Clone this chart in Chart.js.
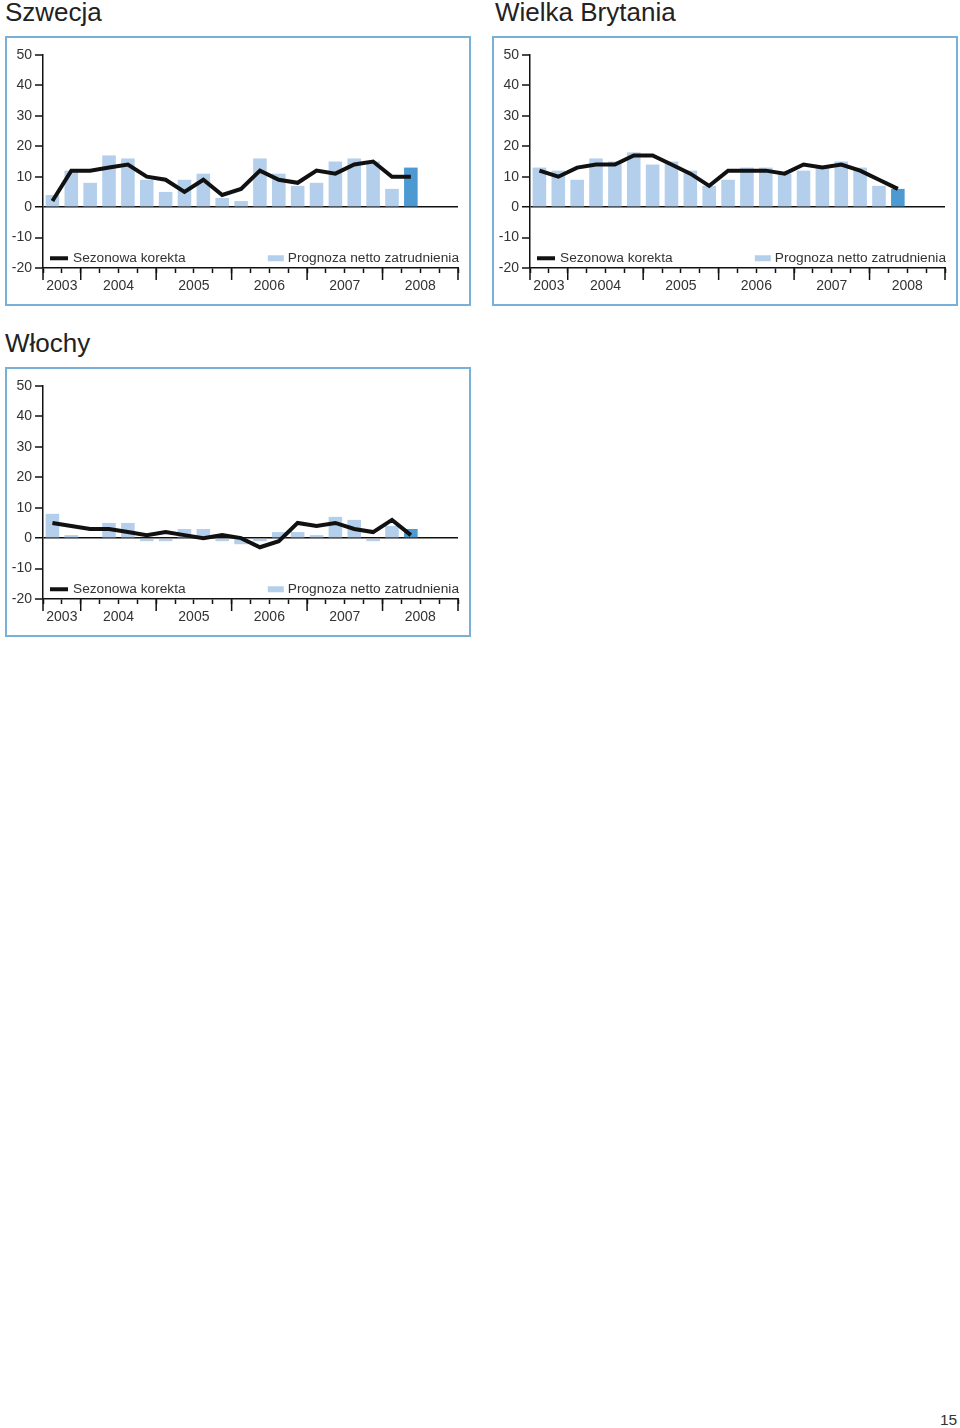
<!DOCTYPE html>
<html>
<head>
<meta charset="utf-8">
<script src="https://cdn.jsdelivr.net/npm/chart.js@4.4.0/dist/chart.umd.min.js"></script>
<style>
  body { margin: 0; background: #fff; width: 960px; height: 1428px; position: relative; font-family: "Liberation Sans", Arial, sans-serif; }
  .title { position: absolute; font-size: 26px; line-height: 26px; color: #222; white-space: nowrap; }
  .box { position: absolute; width: 466px; height: 270px; border: 2px solid #78b0d8; box-sizing: border-box; }
  .box canvas { position: absolute; left: 0; top: 0; }
  .page { position: absolute; left: 940px; top: 1412px; font-size: 15.5px; line-height: 15.5px; color: #333; }
</style>
</head>
<body>

<div class="title" style="left:5px;top:-1px">Szwecja</div>
<div class="box" style="left:5px;top:36px"><canvas id="szwecja" width="462" height="266"></canvas></div>

<div class="title" style="left:495px;top:-1px">Wielka Brytania</div>
<div class="box" style="left:492px;top:36px"><canvas id="uk" width="462" height="266"></canvas></div>

<div class="title" style="left:5px;top:330px">Włochy</div>
<div class="box" style="left:5px;top:367px"><canvas id="wlochy" width="462" height="266"></canvas></div>

<div class="page">15</div>

<script>
// quarters on the x axis (2003 Q3 .. 2008 Q4), data runs up to 2008 Q2
var quarters = ['2003 Q3','2003 Q4',
  '2004 Q1','2004 Q2','2004 Q3','2004 Q4',
  '2005 Q1','2005 Q2','2005 Q3','2005 Q4',
  '2006 Q1','2006 Q2','2006 Q3','2006 Q4',
  '2007 Q1','2007 Q2','2007 Q3','2007 Q4',
  '2008 Q1','2008 Q2','2008 Q3','2008 Q4'];
var yTicks = [50, 40, 30, 20, 10, 0, -10, -20];

var szwecjaBars = [4, 12, 8, 17, 16, 9, 5, 9, 11, 3, 2, 16, 11, 7, 8, 15, 16, 15, 6, 13];
var szwecjaLine = [2, 12, 12, 13, 14, 10, 9, 5, 9, 4, 6, 12, 9, 8, 12, 11, 14, 15, 10, 10];

var ukBars = [13, 12, 9, 16, 15, 18, 14, 15, 12, 7, 9, 13, 13, 11, 12, 13, 15, 13, 7, 6];
var ukLine = [12, 10, 13, 14, 14, 17, 17, 14, 11, 7, 12, 12, 12, 11, 14, 13, 14, 12, 9, 6];

var wlochyBars = [8, 1, 0, 5, 5, -1, -1, 3, 3, -1, -2, -1, 2, 2, 1, 7, 6, -1, 4, 3];
var wlochyLine = [5, 4, 3, 3, 2, 1, 2, 1, 0, 1, 0, -3, -1, 5, 4, 5, 3, 2, 6, 1];

var lineLabel = 'Sezonowa korekta';
var barLabel = 'Prognoza netto zatrudnienia';

var lightBlue = '#b4cfeb';
var darkBlue = '#4d9ad2';
var ink = '#111';
var textColor = '#333';
var fontFamily = '"Liberation Sans", Arial, sans-serif';

// year of each quarter, and where the year label / long tick goes
var qYear = quarters.map(function (q) { return q.slice(0, 4); });
var yearLabelAt = {};
var yearBounds = [-0.5];
qYear.forEach(function (y, i) {
  if (i > 0 && qYear[i - 1] !== y) yearBounds.push(i - 0.5);
});
yearBounds.push(quarters.length - 0.5);
for (var b = 0; b < yearBounds.length - 1; b++) {
  var mid = (yearBounds[b] + yearBounds[b + 1]) / 2;   // always x.5
  yearLabelAt[Math.floor(mid)] = qYear[Math.ceil(yearBounds[b])];
}

// long ticks at year boundaries
var yearTicks = {
  id: 'yearTicks',
  afterDraw: function (chart) {
    var x = chart.scales.x, ctx = chart.ctx, bottom = chart.chartArea.bottom;
    ctx.save();
    ctx.strokeStyle = ink;
    ctx.lineWidth = 1.5;
    yearBounds.forEach(function (v) {
      var px = x.getPixelForValue(v);
      ctx.beginPath();
      ctx.moveTo(px, bottom);
      ctx.lineTo(px, bottom + 12);
      ctx.stroke();
    });
    ctx.restore();
  }
};

// legend sits inside the plot, near -17
var insideLegend = {
  id: 'insideLegend',
  afterDraw: function (chart) {
    var ctx = chart.ctx, area = chart.chartArea;
    var y = chart.scales.y.getPixelForValue(-16.8);
    var lineDs = chart.data.datasets[0], barDs = chart.data.datasets[1];
    ctx.save();
    ctx.font = '13.7px ' + fontFamily;
    ctx.fillStyle = textColor;
    ctx.textBaseline = 'middle';
    ctx.strokeStyle = lineDs.borderColor;
    ctx.lineWidth = 4;
    ctx.beginPath();
    ctx.moveTo(area.left + 7, y);
    ctx.lineTo(area.left + 25, y);
    ctx.stroke();
    ctx.textAlign = 'left';
    ctx.fillText(lineDs.label, area.left + 30, y);
    ctx.textAlign = 'right';
    var right = area.right + 1;
    var w = ctx.measureText(barDs.label).width;
    ctx.fillText(barDs.label, right, y);
    ctx.fillStyle = lightBlue;
    ctx.fillRect(right - w - 20, y - 3, 16, 6);
    ctx.restore();
  }
};

function makeChart(id, bars, line) {
  var colors = bars.map(function (v, i) { return i === bars.length - 1 ? darkBlue : lightBlue; });
  return new Chart(document.getElementById(id), {
    data: {
      labels: quarters,
      datasets: [
        {
          type: 'line',
          label: lineLabel,
          data: line,
          borderColor: ink,
          borderWidth: 4,
          pointRadius: 0,
          tension: 0,
          order: 0
        },
        {
          type: 'bar',
          label: barLabel,
          data: bars,
          backgroundColor: colors,
          categoryPercentage: 1,
          barPercentage: 0.72,
          order: 1
        }
      ]
    },
    options: {
      responsive: false,
      animation: false,
      events: [],
      layout: { padding: { left: 0, right: 11, top: 17, bottom: 0 } },
      plugins: { legend: { display: false }, tooltip: { enabled: false } },
      scales: {
        x: {
          type: 'category',
          offset: true,
          afterFit: function (s) { s.height = 36; },
          border: { display: true, color: ink, width: 1.5 },
          grid: { offset: true, drawOnChartArea: false, drawTicks: true, tickLength: 5, tickColor: ink, tickWidth: 1.5 },
          ticks: {
            autoSkip: false,
            maxRotation: 0,
            padding: 5,
            labelOffset: 9.43,
            color: textColor,
            font: { family: fontFamily, size: 14 },
            callback: function (v, i) { return yearLabelAt[i] || ''; }
          }
        },
        y: {
          min: -20,
          max: 50,
          afterFit: function (s) { s.width = 36; },
          afterBuildTicks: function (s) { s.ticks = yTicks.map(function (v) { return { value: v }; }); },
          border: { display: true, color: ink, width: 1.5 },
          grid: {
            drawOnChartArea: true,
            drawTicks: true,
            tickLength: 8,
            tickColor: ink,
            tickWidth: 1.5,
            color: function (c) { return c.tick && c.tick.value === 0 ? ink : 'rgba(0,0,0,0)'; },
            lineWidth: function (c) { return c.tick && c.tick.value === 0 ? 1.5 : 0; }
          },
          ticks: {
            padding: 3,
            color: textColor,
            font: { family: fontFamily, size: 14 }
          }
        }
      }
    },
    plugins: [yearTicks, insideLegend]
  });
}

makeChart('szwecja', szwecjaBars, szwecjaLine);
makeChart('uk', ukBars, ukLine);
makeChart('wlochy', wlochyBars, wlochyLine);
</script>
</body>
</html>
